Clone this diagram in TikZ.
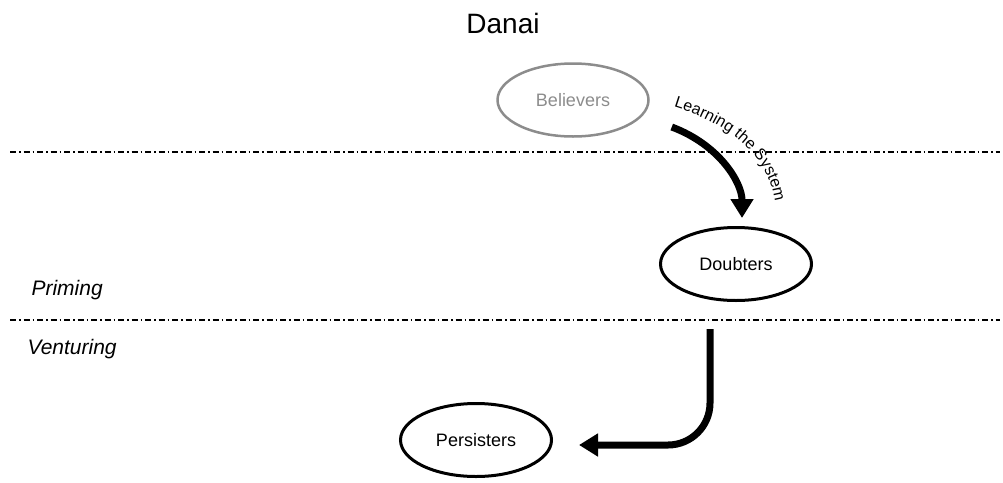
\documentclass[tikz,border=0pt]{standalone}
\usepackage{fontspec}
\setmainfont{Liberation Sans}
\usetikzlibrary{arrows.meta,decorations.text,shapes.geometric}
\begin{document}
\begin{tikzpicture}[x=1pt,y=-1pt,
  stage/.style={ellipse,draw,line width=3pt,minimum width=151pt,minimum height=73pt,inner sep=0pt,font=\fontsize{18}{21}\selectfont},
  divider/.style={line width=1.4pt,dash pattern=on 6pt off 3pt on 1.5pt off 3pt},
  phase/.style={anchor=west,font=\fontsize{21}{24}\selectfont\itshape},
  bigarrow/.style={line width=7pt,-{Triangle[length=19pt,width=22pt]}}]
\useasboundingbox (0,0) rectangle (1003,482);
\node (title) at (503,23) {\fontsize{28}{32}\selectfont Danai};
\node[stage,draw=black!45,text=black!45,line width=2.5pt] (bel) at (573,100) {Believers};
\node[stage] (dbt) at (736,264) {Doubters};
\node[stage] (per) at (476,440) {Persisters};
\draw[divider] (10,152) coordinate (d1a) -- (1000,152) coordinate (d1b);
\draw[divider] (10,320) coordinate (d2a) -- (1000,320) coordinate (d2b);
\node[phase] (prim) at (28,290) {Priming};
\node[phase] (vent) at (24,349) {Venturing};
\draw[bigarrow] ([xshift=22pt,yshift=-27pt]bel.east) .. controls +(48,18) and +(0,-35) .. ([xshift=6pt,yshift=8pt]dbt.north);
\path[decorate,decoration={text along path,text align=center,
  text={|\fontsize{16}{18}\selectfont|Learning the System}}]
  (660,103) .. controls (731,121) and (776,160) .. (776,216);
\draw[bigarrow,rounded corners=42pt] ([xshift=-26pt,yshift=-27pt]dbt.south) |- ([xshift=26pt,yshift=-5pt]per.east);
\end{tikzpicture}
\end{document}
